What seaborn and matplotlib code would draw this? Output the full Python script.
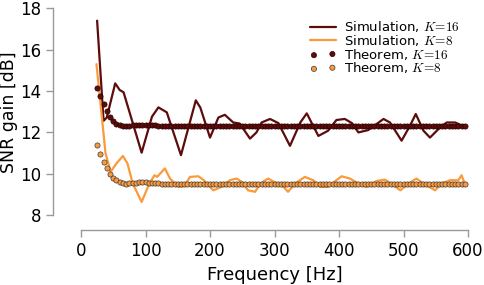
import numpy as np
import matplotlib
matplotlib.use("Agg")
import matplotlib.pyplot as plt
import seaborn as sns

# simulation curves (frequency in Hz, SNR gain in dB)
sim_freq_k16 = [25, 35, 40, 53, 60, 66, 94, 110, 120, 133, 155, 178, 185, 200,
                213, 223, 236, 246, 262, 272, 280, 293, 306, 324, 340, 350, 368,
                383, 396, 409, 420, 430, 445, 458, 469, 479, 497, 510, 519, 531,
                541, 557, 567, 580, 593]
sim_snr_k16 = [17.4, 12.56, 12.72, 14.37, 14.05, 13.94, 11.02, 12.76, 13.21, 12.97,
               10.9, 13.55, 13.2, 11.75, 12.72, 12.85, 12.48, 12.43, 11.7, 12.0,
               12.48, 12.65, 12.45, 11.35, 12.48, 12.92, 11.83, 12.08, 12.6, 12.65,
               12.45, 12.0, 12.11, 12.4, 12.65, 12.48, 11.6, 12.32, 12.89, 12.08,
               11.75, 12.25, 12.48, 12.48, 12.3]

sim_freq_k8 = [24, 38, 46, 55, 65, 72, 80, 94, 106, 114, 118, 130, 138, 151, 160,
               169, 182, 190, 205, 218, 231, 241, 250, 259, 270, 278, 290, 300,
               314, 321, 332, 347, 360, 370, 383, 396, 404, 417, 430, 443, 458,
               471, 481, 495, 508, 520, 531, 549, 559, 572, 585, 590, 594]
sim_snr_k8 = [15.3, 11.0, 10.1, 10.5, 10.86, 10.5, 9.55, 8.64, 9.53, 9.93, 9.85,
              10.26, 9.77, 9.37, 9.4, 9.85, 9.88, 9.7, 9.2, 9.37, 9.69, 9.77, 9.6,
              9.2, 9.13, 9.53, 9.77, 9.6, 9.37, 9.13, 9.53, 9.85, 9.69, 9.37, 9.37,
              9.69, 9.88, 9.77, 9.53, 9.37, 9.65, 9.72, 9.53, 9.2, 9.53, 9.77, 9.53,
              9.2, 9.53, 9.69, 9.69, 9.93, 9.6]

# theorem values, every 5 Hz from 25 to 595
theo_freq = np.arange(25, 600, 5)
theo_k16 = [14.15, 13.75, 13.37, 13.05, 12.76, 12.53, 12.40, 12.34, 12.32, 12.32,
            12.33, 12.35, 12.36, 12.37, 12.37, 12.37, 12.36, 12.35, 12.34, 12.33,
            12.33, 12.33, 12.33, 12.33, 12.33, 12.33, 12.33, 12.33, 12.33, 12.33,
            12.33, 12.33, 12.33, 12.33, 12.33, 12.33, 12.33, 12.33, 12.33, 12.33,
            12.33, 12.33, 12.33, 12.33, 12.33, 12.33, 12.33, 12.33, 12.33, 12.33,
            12.33, 12.33, 12.33, 12.33, 12.33, 12.33, 12.33, 12.33, 12.33, 12.33,
            12.33, 12.33, 12.33, 12.33, 12.33, 12.33, 12.33, 12.33, 12.33, 12.33,
            12.33, 12.33, 12.33, 12.33, 12.33, 12.33, 12.33, 12.33, 12.33, 12.33,
            12.33, 12.33, 12.33, 12.33, 12.33, 12.33, 12.33, 12.33, 12.33, 12.33,
            12.33, 12.33, 12.33, 12.33, 12.33, 12.33, 12.33, 12.33, 12.33, 12.33,
            12.33, 12.33, 12.33, 12.33, 12.33, 12.33, 12.33, 12.33, 12.33, 12.33,
            12.33, 12.33, 12.33, 12.33, 12.33]
theo_k8 = [11.38, 10.98, 10.59, 10.27, 9.99, 9.81, 9.68, 9.59, 9.54, 9.53,
           9.54, 9.56, 9.57, 9.58, 9.58, 9.58, 9.57, 9.56, 9.55, 9.54,
           9.53, 9.53, 9.53, 9.53, 9.53, 9.53, 9.53, 9.53, 9.53, 9.53,
           9.53, 9.53, 9.53, 9.53, 9.53, 9.53, 9.53, 9.53, 9.53, 9.53,
           9.53, 9.53, 9.53, 9.53, 9.53, 9.53, 9.53, 9.53, 9.53, 9.53,
           9.53, 9.53, 9.53, 9.53, 9.53, 9.53, 9.53, 9.53, 9.53, 9.53,
           9.53, 9.53, 9.53, 9.53, 9.53, 9.53, 9.53, 9.53, 9.53, 9.53,
           9.53, 9.53, 9.53, 9.53, 9.53, 9.53, 9.53, 9.53, 9.53, 9.53,
           9.53, 9.53, 9.53, 9.53, 9.53, 9.53, 9.53, 9.53, 9.53, 9.53,
           9.53, 9.53, 9.53, 9.53, 9.53, 9.53, 9.53, 9.53, 9.53, 9.53,
           9.53, 9.53, 9.53, 9.53, 9.53, 9.53, 9.53, 9.53, 9.53, 9.53,
           9.53, 9.53, 9.53, 9.53, 9.53]

dark = '#5e0b0b'
orange = '#fb9a3c'

sns.set_style('white')
plt.rcParams['font.family'] = ['DejaVu Sans']
plt.rcParams['mathtext.fontset'] = 'cm'
plt.rcParams['text.color'] = 'black'
plt.rcParams['axes.labelcolor'] = 'black'

fig = plt.figure(figsize=(4.85, 2.85), dpi=100)
ax = fig.add_axes([0.167, 0.245, 0.798, 0.726])

sns.lineplot(x=sim_freq_k16, y=sim_snr_k16, sort=False, color=dark, lw=1.6,
             label=r'Simulation, $K\!=\!16$', ax=ax)
sns.lineplot(x=sim_freq_k8, y=sim_snr_k8, sort=False, color=orange, lw=1.6,
             label=r'Simulation, $K\!=\!8$', ax=ax)
sns.scatterplot(x=theo_freq, y=theo_k16, color=dark, s=14, edgecolor='#2a0000',
                linewidth=0.5, label=r'Theorem, $K\!=\!16$', ax=ax, zorder=3)
sns.scatterplot(x=theo_freq, y=theo_k8, color=orange, s=14, edgecolor='#3a3a3a',
                linewidth=0.5, label=r'Theorem, $K\!=\!8$', ax=ax, zorder=3)

ax.set_xlim(0, 600)
ax.set_ylim(8, 18)
ax.set_xticks([0, 100, 200, 300, 400, 500, 600])
ax.set_yticks([8, 10, 12, 14, 16, 18])
ax.set_xlabel('Frequency [Hz]', fontsize=13)
ax.set_ylabel('SNR gain [dB]', fontsize=12.5)
ax.yaxis.set_label_coords(-0.162, 0.5)
ax.tick_params(labelsize=12, length=5, width=1, color='#999999', direction='out',
               labelcolor='black', left=True, bottom=True)
sns.despine(ax=ax, offset={'left': 20, 'bottom': 11})
for side in ['left', 'bottom']:
    ax.spines[side].set_color('#999999')
    ax.spines[side].set_linewidth(1.0)

ax.legend(loc='upper right', bbox_to_anchor=(1.0, 0.985), frameon=False,
          fontsize=9.5, scatterpoints=2, handlelength=2.0, labelspacing=-0.1,
          borderaxespad=0.2, handletextpad=0.6)

fig.savefig('out.png', dpi=100)
